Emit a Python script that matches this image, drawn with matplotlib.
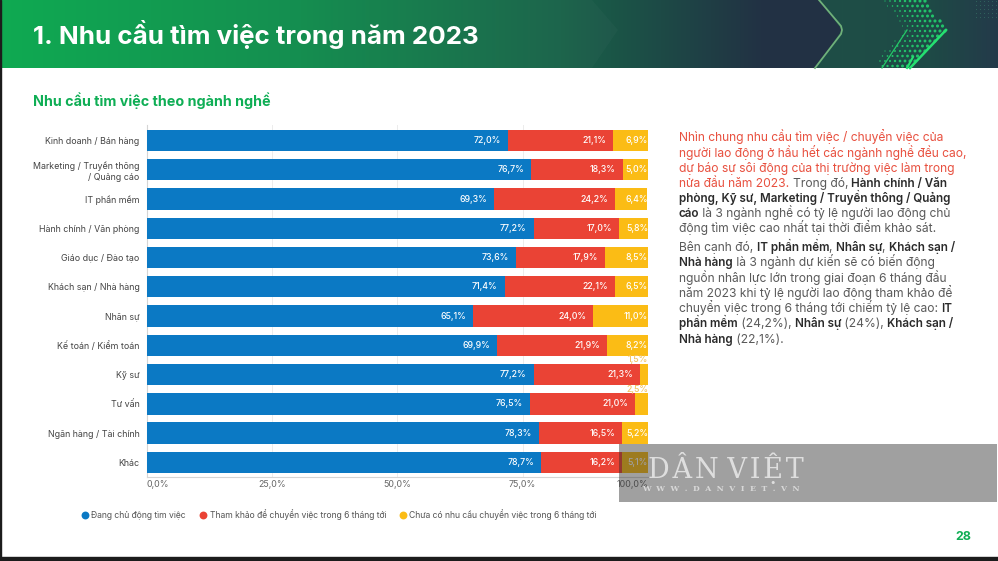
import matplotlib
matplotlib.use('Agg')
import matplotlib.pyplot as plt
import numpy as np
from matplotlib.patches import Rectangle, Polygon

plt.rcParams['font.family'] = ['Inter', 'DejaVu Sans']

categories = ['Kinh doanh / Bán hàng', 'Marketing / Truyền thông\n/ Quảng cáo', 'IT phần mềm',
              'Hành chính / Văn phòng', 'Giáo dục / Đào tạo', 'Khách sạn / Nhà hàng', 'Nhân sự',
              'Kế toán / Kiểm toán', 'Kỹ sư', 'Tư vấn', 'Ngân hàng / Tài chính', 'Khác']
active = [72.0, 76.7, 69.3, 77.2, 73.6, 71.4, 65.1, 69.9, 77.2, 76.5, 78.3, 78.7]
consider = [21.1, 18.3, 24.2, 17.0, 17.9, 22.1, 24.0, 21.9, 21.3, 21.0, 16.5, 16.2]
no_need = [6.9, 5.0, 6.4, 5.8, 8.5, 6.5, 11.0, 8.2, 1.5, 2.5, 5.2, 5.1]
series_names = ['Đang chủ động tìm việc', 'Tham khảo để chuyển việc trong 6 tháng tới',
                'Chưa có nhu cầu chuyển việc trong 6 tháng tới']
x_ticks = [0, 25, 50, 75, 100]
x_labels = ['0,0%', '25,0%', '50,0%', '75,0%', '100,0%']

BLUE = '#0b79c4'
RED = '#ea4335'
YELLOW = '#fbbc15'
GREEN = '#0fae55'
GREY = '#5a5a5a'
DARK = '#2b2b2b'
TXT_RED = '#e8503f'
W, H = 998, 561


def gradient(stops, cols):
    cols = np.array(cols) / 255
    xs = np.arange(W)
    return np.stack([np.interp(xs, stops, cols[:, i]) for i in range(3)], axis=-1)[None, :, :]


fig = plt.figure(figsize=(W / 100, H / 100), dpi=100, facecolor='white')

# page layer in pixel coords
bg = fig.add_axes([0, 0, 1, 1])
bg.axis('off')

# header
bg.imshow(gradient([0, 300, 560, 760, 998],
                   [[10, 168, 78], [16, 140, 76], [24, 98, 72], [34, 50, 68], [34, 46, 68]]),
          extent=[0, W, 68, 0], aspect='auto', zorder=1)
shape = Polygon([(819, 0), (998, 0), (998, 68), (815, 68), (842, 30)], transform=bg.transData, fc='none', lw=0)
bg.add_patch(shape)
right = bg.imshow(gradient([0, 842, 930, 998], [[30, 76, 70], [30, 78, 70], [30, 74, 70], [36, 58, 74]]),
                  extent=[0, W, 68, 0], aspect='auto', zorder=1.1)
right.set_clip_path(shape)
bg.add_patch(Polygon([(0, 0), (592, 0), (618, 30), (592, 68), (0, 68)], fc='white', alpha=0.025, lw=0, zorder=1.2))
bg.set_xlim(0, W)
bg.set_ylim(H, 0)
bg.plot([819, 841, 842, 841, 815], [0, 26, 30, 34, 68], color='#6fb07a', lw=1.3, zorder=2)
bg.plot([946, 910], [30, 68], color='#25e070', lw=1.8, zorder=2.2)
bg.plot([907, 882], [30, 68], color='#25c868', lw=0.9, zorder=2.2)
bg.plot([913, 907], [57, 68], color='#25e070', lw=1.5, zorder=2.2)

# dotted chevron
gx, gy = np.meshgrid(np.arange(880, 950, 5.0), np.arange(1, 68, 5.0))
gx = gx + (gy % 10 > 5) * 2.5
edge = np.where(gy < 30, 925 + gy * 0.72, 946 - (gy - 30) * 0.95)
depth = edge - gx
keep = (depth > 0) & (depth < 42)
bg.scatter(gx[keep], gy[keep], s=(0.6 + 5 * (1 - depth[keep] / 42)), color='#22d870', alpha=0.85, linewidths=0, zorder=2.1)
fx, fy = np.meshgrid(np.arange(976, 998, 4.0), np.arange(1, 20, 4.0))
bg.scatter(fx, fy, s=0.6, color='#4fb088', alpha=0.35, linewidths=0, zorder=2.1)

bg.text(33, 34.5, '1. Nhu cầu tìm việc trong năm 2023', color='white', fontsize=18.7, fontweight='bold',
        va='center', ha='left', zorder=3)
bg.text(33, 101, 'Nhu cầu tìm việc theo ngành nghề', color=GREEN, fontsize=10.3, fontweight='bold',
        va='center', ha='left')
bg.text(963, 537, '28', color=GREEN, fontsize=9, fontweight='bold', va='center', ha='center')

# dark edges of the screenshot
bg.add_patch(Rectangle((0, 557), W, 4, color='#1c1c1c', zorder=5))
bg.add_patch(Rectangle((0, 0), 1.5, H, color='#1c1c1c', zorder=5))

# chart
ax = fig.add_axes([146.5 / W, 1 - 477 / H, (648 - 146.5) / W, (477 - 125) / H], zorder=2)
ax.patch.set_alpha(0)
y = np.arange(len(categories))
bar_h = 0.73
ax.barh(y, active, bar_h, color=BLUE, zorder=3)
ax.barh(y, consider, bar_h, left=active, color=RED, zorder=3)
ax.barh(y, no_need, bar_h, left=np.array(active) + np.array(consider), color=YELLOW, zorder=3)
ax.set_xlim(0, 100)
ax.set_ylim(11.5, -0.53)
ax.set_yticks(y)
ax.set_yticklabels(categories, fontsize=6.4, color='#444444', linespacing=1.3)
ax.set_xticks(x_ticks)
ax.set_xticklabels(x_labels, fontsize=6.4, color='#666666')
ax.get_xticklabels()[0].set_ha('left')
ax.get_xticklabels()[-1].set_ha('right')
ax.tick_params(axis='y', length=0, pad=5)
ax.tick_params(axis='x', length=0, pad=2)
ax.grid(axis='x', color='#ececec', lw=0.7, zorder=1)
for s in ['top', 'right']:
    ax.spines[s].set_visible(False)
for s in ['left', 'bottom']:
    ax.spines[s].set_color('#d5d5d5')
    ax.spines[s].set_linewidth(0.8)
    ax.spines[s].set_zorder(2)

for i in range(len(categories)):
    ax.text(active[i] - 1.4, i, f'{active[i]:.1f}%'.replace('.', ','), color='white', fontsize=6.3,
            fontweight='medium', ha='right', va='center', zorder=4)
    ax.text(active[i] + consider[i] - 1.4, i, f'{consider[i]:.1f}%'.replace('.', ','), color='white',
            fontsize=6.3, fontweight='medium', ha='right', va='center', zorder=4)
    lab = f'{no_need[i]:.1f}%'.replace('.', ',')
    if no_need[i] < 3:
        ax.text(100, i - 0.5, lab, color='#f3c35e', fontsize=6.3, fontweight='medium', ha='right', va='center', zorder=4)
    else:
        ax.text(100, i, lab, color='white', fontsize=6.3, fontweight='medium', ha='right', va='center', zorder=4)

# legend, placed by hand like in the slide
leg_x = [85, 203.5, 403]
for xp, name, c in zip(leg_x, series_names, [BLUE, RED, YELLOW]):
    bg.scatter([xp], [515], s=32, color=c, linewidths=0, zorder=3)
    bg.text(xp + 6.5, 515, name, fontsize=6.2, color='#555555', va='center', ha='left')

# right hand text
para = [
    (141, [('Nhìn chung nhu cầu tìm việc / chuyển việc của', TXT_RED, 'normal')]),
    (156.5, [('người lao động ở hầu hết các ngành nghề đều cao,', TXT_RED, 'normal')]),
    (172, [('dự báo sự sôi động của thị trường việc làm trong', TXT_RED, 'normal')]),
    (187, [('nửa đầu năm 2023. ', TXT_RED, 'normal'), ('Trong đó, ', GREY, 'normal'), ('Hành chính / Văn', DARK, 'semibold')]),
    (202, [('phòng, Kỹ sư, Marketing / Truyền thông / Quảng', DARK, 'semibold')]),
    (217, [('cáo', DARK, 'semibold'), (' là 3 ngành nghề có tỷ lệ người lao động chủ', GREY, 'normal')]),
    (232, [('động tìm việc cao nhất tại thời điểm khảo sát.', GREY, 'normal')]),
    (251, [('Bên cạnh đó, ', GREY, 'normal'), ('IT phần mềm', DARK, 'semibold'), (', ', GREY, 'normal'),
           ('Nhân sự', DARK, 'semibold'), (', ', GREY, 'normal'), ('Khách sạn /', DARK, 'semibold')]),
    (266, [('Nhà hàng', DARK, 'semibold'), (' là 3 ngành dự kiến sẽ có biến động', GREY, 'normal')]),
    (282, [('nguồn nhân lực lớn trong giai đoạn 6 tháng đầu', GREY, 'normal')]),
    (297, [('năm 2023 khi tỷ lệ người lao động tham khảo để', GREY, 'normal')]),
    (312, [('chuyển việc trong 6 tháng tới chiếm tỷ lệ cao: ', GREY, 'normal'), ('IT', DARK, 'semibold')]),
    (327, [('phần mềm', DARK, 'semibold'), (' (24,2%), ', GREY, 'normal'), ('Nhân sự', DARK, 'semibold'),
           (' (24%), ', GREY, 'normal'), ('Khách sạn /', DARK, 'semibold')]),
    (343, [('Nhà hàng', DARK, 'semibold'), (' (22,1%).', GREY, 'normal')]),
]
rend = fig.canvas.get_renderer()
for yp, parts in para:
    xp = 679
    for txt, c, w in parts:
        size = 8.4 if w == 'semibold' else 8.7
        t = bg.text(xp, yp, txt, fontsize=size, color=c, fontweight=w, va='baseline', ha='left')
        # window extent already counts the trailing spaces
        xp = t.get_window_extent(rend).x1

# watermark, sits over the chart
top = fig.add_axes([0, 0, 1, 1], zorder=3)
top.set_xlim(0, W)
top.set_ylim(H, 0)
top.axis('off')
top.add_patch(Rectangle((619.5, 444), 377.5, 57.5, color='#2c2c2c', alpha=0.45, lw=0))
top.text(726, 468, 'D\u200aÂ\u200aN V\u200aI\u200aỆ\u200aT', family='DejaVu Serif', fontsize=19.5, color='#e6e6e6',
         alpha=0.9, ha='center', va='center')
top.text(721, 489, 'W  W  W  .  D  A  N  V  I  E  T  .  V  N', family='DejaVu Serif', fontsize=5.6, color='#d8d8d8',
         fontweight='bold', ha='center', va='center')

fig.savefig('out.png', dpi=100)
